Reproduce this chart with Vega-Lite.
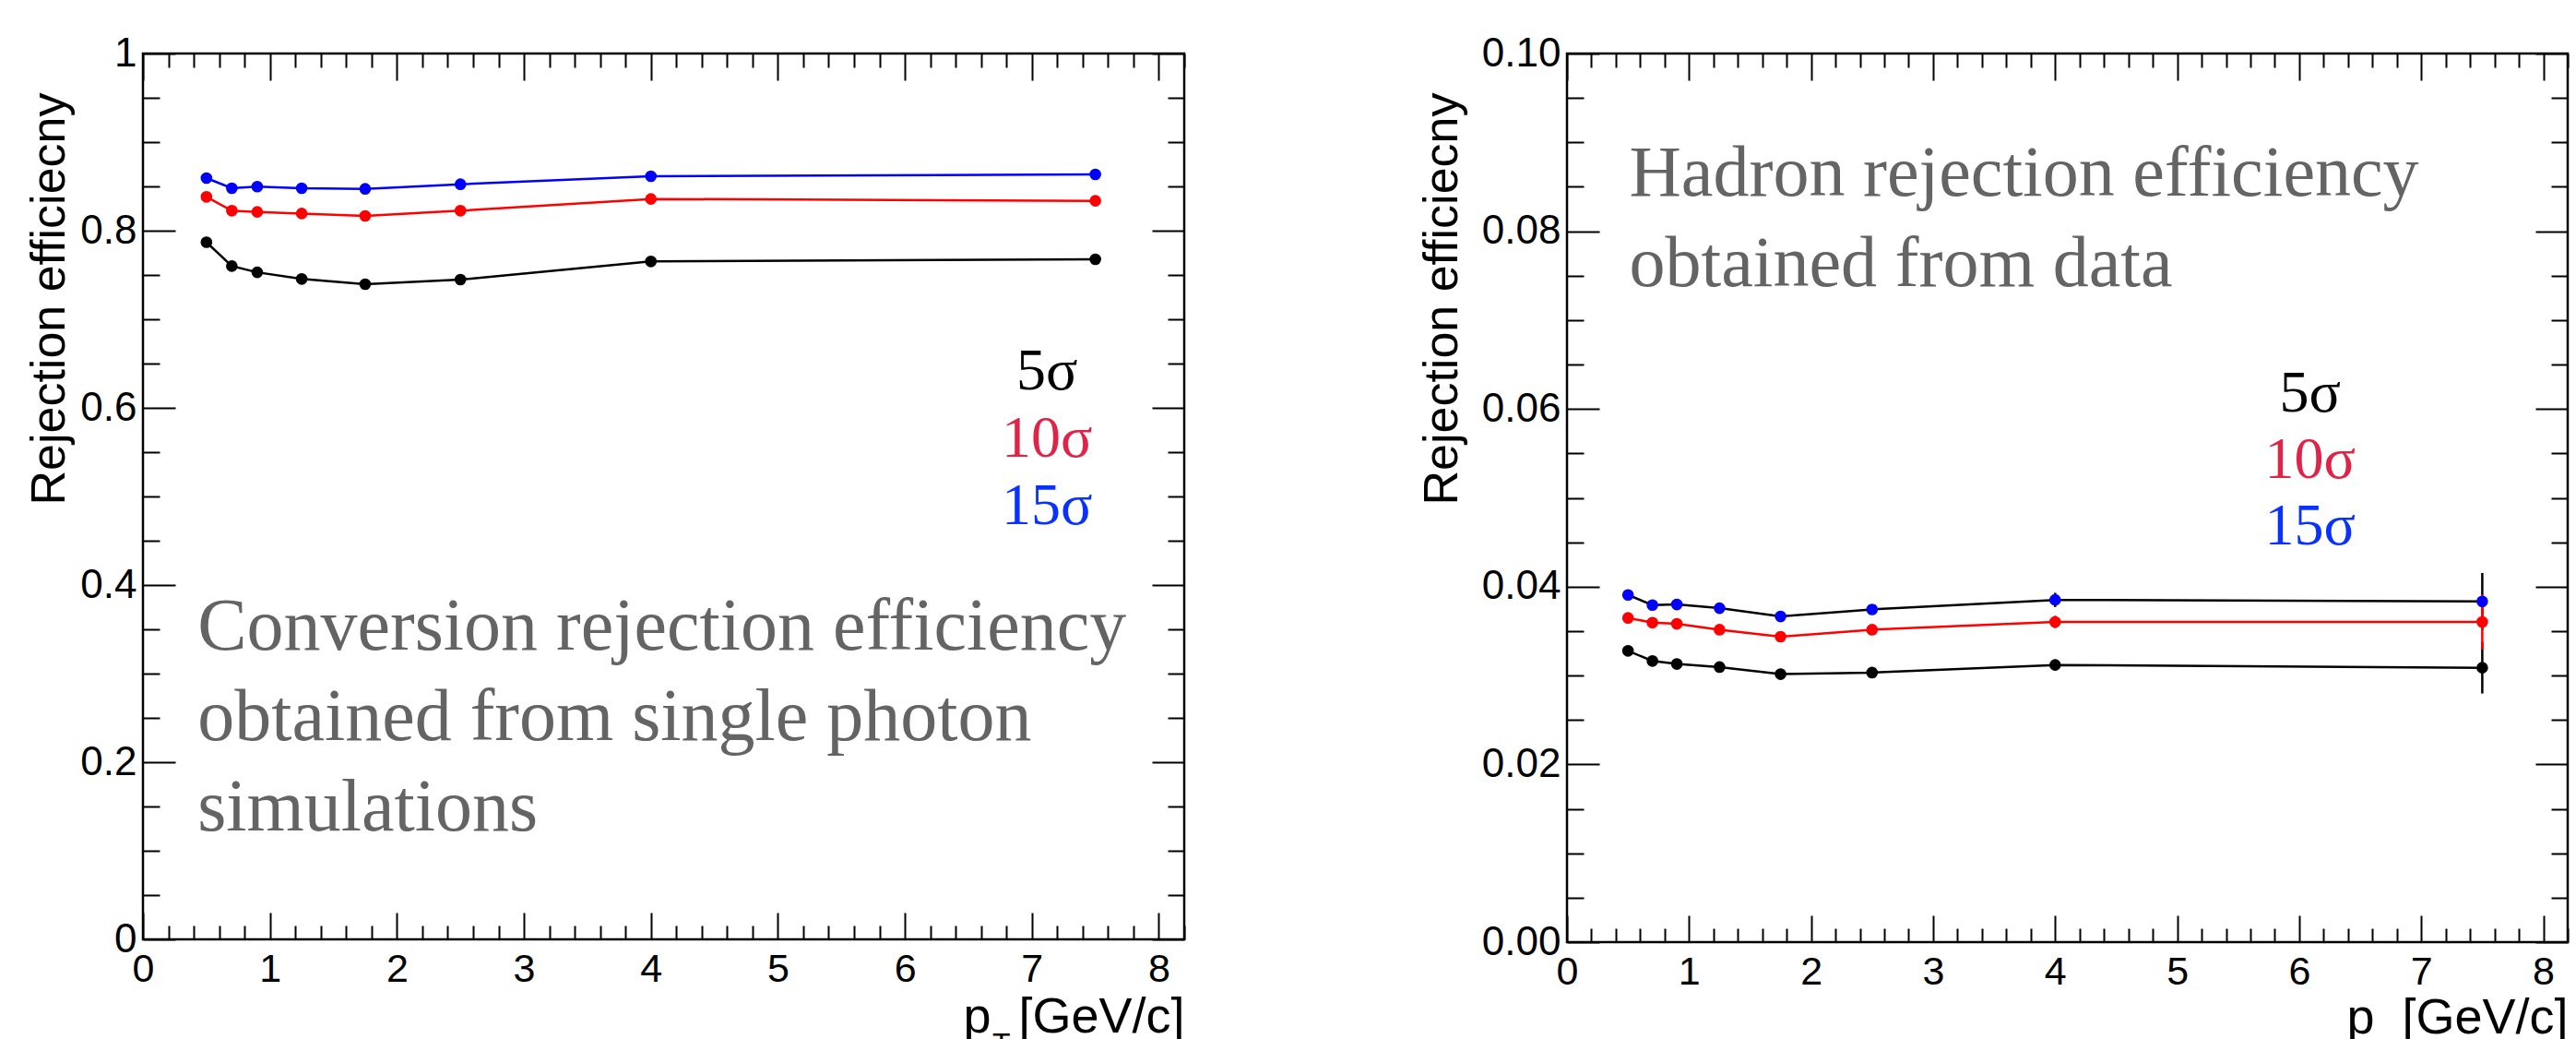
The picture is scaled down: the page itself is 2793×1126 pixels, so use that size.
{
  "$schema": "https://vega.github.io/schema/vega-lite/v6.json",
  "background": "white",
  "padding": {"left": 25, "top": 34, "right": 0, "bottom": 0},
  "autosize": {"type": "pad"},
  "spacing": 415,
  "bounds": "flush",
  "config": {
    "view": {"stroke": "black", "strokeWidth": 2.5},
    "axis": {"domain": false, "grid": false}
  },
  "datasets": {
    "sim": [
      {"pt": 0.5, "cut": "5σ", "eff": 0.787},
      {"pt": 0.7, "cut": "5σ", "eff": 0.760},
      {"pt": 0.9, "cut": "5σ", "eff": 0.753},
      {"pt": 1.25, "cut": "5σ", "eff": 0.7455},
      {"pt": 1.75, "cut": "5σ", "eff": 0.7396},
      {"pt": 2.5, "cut": "5σ", "eff": 0.7448},
      {"pt": 4.0, "cut": "5σ", "eff": 0.7653},
      {"pt": 7.5, "cut": "5σ", "eff": 0.7677},
      {"pt": 0.5, "cut": "10σ", "eff": 0.8382},
      {"pt": 0.7, "cut": "10σ", "eff": 0.8226},
      {"pt": 0.9, "cut": "10σ", "eff": 0.8212},
      {"pt": 1.25, "cut": "10σ", "eff": 0.8194},
      {"pt": 1.75, "cut": "10σ", "eff": 0.8167},
      {"pt": 2.5, "cut": "10σ", "eff": 0.8226},
      {"pt": 4.0, "cut": "10σ", "eff": 0.8358},
      {"pt": 7.5, "cut": "10σ", "eff": 0.8337},
      {"pt": 0.5, "cut": "15σ", "eff": 0.8594},
      {"pt": 0.7, "cut": "15σ", "eff": 0.8479},
      {"pt": 0.9, "cut": "15σ", "eff": 0.8497},
      {"pt": 1.25, "cut": "15σ", "eff": 0.8479},
      {"pt": 1.75, "cut": "15σ", "eff": 0.8472},
      {"pt": 2.5, "cut": "15σ", "eff": 0.8524},
      {"pt": 4.0, "cut": "15σ", "eff": 0.8615},
      {"pt": 7.5, "cut": "15σ", "eff": 0.8635}
    ],
    "hadron": [
      {"pt": 0.5, "cut": "5σ", "eff": 0.03278, "lo": 0.03258, "hi": 0.03298},
      {"pt": 0.7, "cut": "5σ", "eff": 0.03164, "lo": 0.03144, "hi": 0.03184},
      {"pt": 0.9, "cut": "5σ", "eff": 0.03130, "lo": 0.03110, "hi": 0.03150},
      {"pt": 1.25, "cut": "5σ", "eff": 0.03095, "lo": 0.03075, "hi": 0.03115},
      {"pt": 1.75, "cut": "5σ", "eff": 0.03016, "lo": 0.02986, "hi": 0.03046},
      {"pt": 2.5, "cut": "5σ", "eff": 0.03033, "lo": 0.02993, "hi": 0.03073},
      {"pt": 4.0, "cut": "5σ", "eff": 0.03119, "lo": 0.03059, "hi": 0.03179},
      {"pt": 7.5, "cut": "5σ", "eff": 0.03088, "lo": 0.02798, "hi": 0.03378},
      {"pt": 0.5, "cut": "10σ", "eff": 0.03648, "lo": 0.03628, "hi": 0.03668},
      {"pt": 0.7, "cut": "10σ", "eff": 0.03596, "lo": 0.03576, "hi": 0.03616},
      {"pt": 0.9, "cut": "10σ", "eff": 0.03582, "lo": 0.03562, "hi": 0.03602},
      {"pt": 1.25, "cut": "10σ", "eff": 0.03516, "lo": 0.03496, "hi": 0.03536},
      {"pt": 1.75, "cut": "10σ", "eff": 0.03437, "lo": 0.03407, "hi": 0.03467},
      {"pt": 2.5, "cut": "10σ", "eff": 0.03516, "lo": 0.03476, "hi": 0.03556},
      {"pt": 4.0, "cut": "10σ", "eff": 0.03603, "lo": 0.03533, "hi": 0.03673},
      {"pt": 7.5, "cut": "10σ", "eff": 0.03603, "lo": 0.03293, "hi": 0.03913},
      {"pt": 0.5, "cut": "15σ", "eff": 0.03907, "lo": 0.03887, "hi": 0.03927},
      {"pt": 0.7, "cut": "15σ", "eff": 0.03793, "lo": 0.03773, "hi": 0.03813},
      {"pt": 0.9, "cut": "15σ", "eff": 0.03800, "lo": 0.03780, "hi": 0.03820},
      {"pt": 1.25, "cut": "15σ", "eff": 0.03758, "lo": 0.03738, "hi": 0.03778},
      {"pt": 1.75, "cut": "15σ", "eff": 0.03665, "lo": 0.03635, "hi": 0.03695},
      {"pt": 2.5, "cut": "15σ", "eff": 0.03744, "lo": 0.03704, "hi": 0.03784},
      {"pt": 4.0, "cut": "15σ", "eff": 0.03851, "lo": 0.03771, "hi": 0.03931},
      {"pt": 7.5, "cut": "15σ", "eff": 0.03834, "lo": 0.03514, "hi": 0.04154}
    ]
  },
  "hconcat": [
    {
      "width": 1129,
      "height": 960,
      "resolve": {"axis": {"x": "independent", "y": "independent"}},
      "layer": [
        {
          "data": {"name": "sim"},
          "transform": [{"filter": "datum.cut === '5σ'"}],
          "mark": {"type": "line", "color": "black", "strokeWidth": 2.5},
          "encoding": {
            "x": {"field": "pt", "type": "quantitative", "scale": {"domain": [0, 8.2], "nice": false, "zero": false},
              "axis": {"orient": "bottom", "values": [0,1,2,3,4,5,6,7,8], "format": "d", "ticks": false, "labelFont": "Liberation Sans", "labelFontSize": 43, "labelColor": "black", "labelPadding": 11, "labelFlush": false, "labelOverlap": false,
                "title": "p\u00a0\u00a0[GeV/c]", "titleFont": "Liberation Sans", "titleFontSize": 54, "titleFontWeight": "normal", "titleColor": "black", "titleAnchor": "end", "titleAlign": "right", "titleBaseline": "alphabetic", "titleX": 1129, "titleY": 100}},
            "y": {"field": "eff", "type": "quantitative", "scale": {"domain": [0, 1], "nice": false, "zero": false},
              "axis": {"orient": "left", "values": [0,0.2,0.4,0.6,0.8,1], "format": "~g", "ticks": false, "labelFont": "Liberation Sans", "labelFontSize": 44, "labelColor": "black", "labelPadding": 7, "labelFlush": false, "labelOverlap": false,
                "title": "Rejection efficiecny", "titleFont": "Liberation Sans", "titleFontSize": 52, "titleFontWeight": "normal", "titleColor": "black", "titleAnchor": "end", "titleAlign": "right", "titleAngle": -90, "titleBaseline": "alphabetic", "titleX": -86, "titleY": 42}}
          }
        },
        {
          "data": {"name": "sim"},
          "transform": [{"filter": "datum.cut === '10σ'"}],
          "mark": {"type": "line", "color": "#ff0000", "strokeWidth": 2.5},
          "encoding": {
            "x": {"field": "pt", "type": "quantitative", "axis": {"orient": "bottom", "values": [0,1,2,3,4,5,6,7,8], "labels": false, "tickSize": -29, "tickWidth": 2, "tickColor": "black", "title": null, "minExtent": 0}},
            "y": {"field": "eff", "type": "quantitative", "axis": {"orient": "left", "values": [0,0.2,0.4,0.6,0.8,1], "labels": false, "tickSize": -35, "tickWidth": 2, "tickColor": "black", "title": null, "minExtent": 0}}
          }
        },
        {
          "data": {"name": "sim"},
          "transform": [{"filter": "datum.cut === '15σ'"}],
          "mark": {"type": "line", "color": "#0000ff", "strokeWidth": 2.5},
          "encoding": {
            "x": {"field": "pt", "type": "quantitative", "axis": {"orient": "bottom", "values": [0.2,0.4,0.6,0.8,1.2,1.4,1.6,1.8,2.2,2.4,2.6,2.8,3.2,3.4,3.6,3.8,4.2,4.4,4.6,4.8,5.2,5.4,5.6,5.8,6.2,6.4,6.6,6.8,7.2,7.4,7.6,7.8,8.2], "labels": false, "tickSize": -15, "tickWidth": 2, "tickColor": "black", "title": null, "minExtent": 0}},
            "y": {"field": "eff", "type": "quantitative", "axis": {"orient": "left", "values": [0.05,0.1,0.15,0.25,0.3,0.35,0.45,0.5,0.55,0.65,0.7,0.75,0.85,0.9,0.95], "labels": false, "tickSize": -18, "tickWidth": 2, "tickColor": "black", "title": null, "minExtent": 0}}
          }
        },
        {
          "data": {"name": "sim"},
          "transform": [{"filter": "datum.cut === '5σ'"}],
          "mark": {"type": "circle", "color": "black", "size": 160, "opacity": 1},
          "encoding": {
            "x": {"field": "pt", "type": "quantitative", "axis": {"orient": "top", "values": [0,1,2,3,4,5,6,7,8], "labels": false, "tickSize": -29, "tickWidth": 2, "tickColor": "black", "title": null, "minExtent": 0}},
            "y": {"field": "eff", "type": "quantitative", "axis": {"orient": "right", "values": [0,0.2,0.4,0.6,0.8,1], "labels": false, "tickSize": -35, "tickWidth": 2, "tickColor": "black", "title": null, "minExtent": 0}}
          }
        },
        {
          "data": {"name": "sim"},
          "transform": [{"filter": "datum.cut === '10σ'"}],
          "mark": {"type": "circle", "color": "#ff0000", "size": 160, "opacity": 1},
          "encoding": {
            "x": {"field": "pt", "type": "quantitative", "axis": {"orient": "top", "values": [0.2,0.4,0.6,0.8,1.2,1.4,1.6,1.8,2.2,2.4,2.6,2.8,3.2,3.4,3.6,3.8,4.2,4.4,4.6,4.8,5.2,5.4,5.6,5.8,6.2,6.4,6.6,6.8,7.2,7.4,7.6,7.8,8.2], "labels": false, "tickSize": -15, "tickWidth": 2, "tickColor": "black", "title": null, "minExtent": 0}},
            "y": {"field": "eff", "type": "quantitative", "axis": {"orient": "right", "values": [0.05,0.1,0.15,0.25,0.3,0.35,0.45,0.5,0.55,0.65,0.7,0.75,0.85,0.9,0.95], "labels": false, "tickSize": -18, "tickWidth": 2, "tickColor": "black", "title": null, "minExtent": 0}}
          }
        },
        {
          "data": {"name": "sim"},
          "transform": [{"filter": "datum.cut === '15σ'"}],
          "mark": {"type": "circle", "color": "#0000ff", "size": 160, "opacity": 1},
          "encoding": {
            "x": {"field": "pt", "type": "quantitative", "axis": null},
            "y": {"field": "eff", "type": "quantitative", "axis": null}
          }
        },
        {
          "data": {"values": [{}]},
          "mark": {"type": "text", "font": "Liberation Serif", "fontSize": 64, "align": "center", "baseline": "alphabetic", "color": "black"},
          "encoding": {"x": {"datum": 7.12, "type": "quantitative", "axis": null}, "y": {"datum": 0.621, "type": "quantitative", "axis": null}, "text": {"value": "5σ"}}
        },
        {
          "data": {"values": [{}]},
          "mark": {"type": "text", "font": "Liberation Serif", "fontSize": 64, "align": "center", "baseline": "alphabetic", "color": "#e02448"},
          "encoding": {"x": {"datum": 7.12, "type": "quantitative", "axis": null}, "y": {"datum": 0.545, "type": "quantitative", "axis": null}, "text": {"value": "10σ"}}
        },
        {
          "data": {"values": [{}]},
          "mark": {"type": "text", "font": "Liberation Serif", "fontSize": 64, "align": "center", "baseline": "alphabetic", "color": "#0a32ff"},
          "encoding": {"x": {"datum": 7.12, "type": "quantitative", "axis": null}, "y": {"datum": 0.469, "type": "quantitative", "axis": null}, "text": {"value": "15σ"}}
        },
        {
          "data": {"values": [{}]},
          "mark": {"type": "text", "font": "Liberation Serif", "fontSize": 80, "align": "left", "baseline": "alphabetic", "color": "#646464", "lineHeight": 98},
          "encoding": {"x": {"datum": 0.43, "type": "quantitative", "axis": null}, "y": {"datum": 0.327, "type": "quantitative", "axis": null}, "text": {"value": ["Conversion rejection efficiency", "obtained from single photon", "simulations"]}}
        },
        {
          "data": {"values": [{}]},
          "mark": {"type": "text", "font": "Liberation Sans", "fontSize": 32, "align": "center", "baseline": "alphabetic", "color": "black"},
          "encoding": {"x": {"datum": 6.76, "type": "quantitative", "axis": null}, "y": {"datum": -0.129, "type": "quantitative", "axis": null}, "text": {"value": "T"}}
        }
      ]
    },
    {
      "width": 1085,
      "height": 963,
      "resolve": {"axis": {"x": "independent", "y": "independent"}},
      "layer": [
        {
          "data": {"name": "hadron"},
          "transform": [{"filter": "datum.cut !== '10σ'"}],
          "mark": {"type": "rule", "color": "black", "strokeWidth": 2.5},
          "encoding": {
            "x": {"field": "pt", "type": "quantitative", "scale": {"domain": [0, 8.2], "nice": false, "zero": false}, "axis": null},
            "y": {"field": "lo", "type": "quantitative", "scale": {"domain": [0, 0.1], "nice": false, "zero": false}, "axis": null},
            "y2": {"field": "hi"}
          }
        },
        {
          "data": {"name": "hadron"},
          "transform": [{"filter": "datum.cut === '10σ'"}],
          "mark": {"type": "rule", "color": "#ff0000", "strokeWidth": 2.5},
          "encoding": {
            "x": {"field": "pt", "type": "quantitative", "axis": null},
            "y": {"field": "lo", "type": "quantitative", "axis": null},
            "y2": {"field": "hi"}
          }
        },
        {
          "data": {"name": "hadron"},
          "transform": [{"filter": "datum.cut === '5σ'"}],
          "mark": {"type": "line", "color": "black", "strokeWidth": 2.5},
          "encoding": {
            "x": {"field": "pt", "type": "quantitative",
              "axis": {"orient": "bottom", "values": [0,1,2,3,4,5,6,7,8], "format": "d", "ticks": false, "labelFont": "Liberation Sans", "labelFontSize": 43, "labelColor": "black", "labelPadding": 11, "labelFlush": false, "labelOverlap": false,
                "title": "p\u00a0\u00a0[GeV/c]", "titleFont": "Liberation Sans", "titleFontSize": 54, "titleFontWeight": "normal", "titleColor": "black", "titleAnchor": "end", "titleAlign": "right", "titleBaseline": "alphabetic", "titleX": 1085, "titleY": 98}},
            "y": {"field": "eff", "type": "quantitative",
              "axis": {"orient": "left", "values": [0,0.02,0.04,0.06,0.08,0.1], "format": ".2f", "ticks": false, "labelFont": "Liberation Sans", "labelFontSize": 44, "labelColor": "black", "labelPadding": 7, "labelFlush": false, "labelOverlap": false,
                "title": "Rejection efficiecny", "titleFont": "Liberation Sans", "titleFontSize": 52, "titleFontWeight": "normal", "titleColor": "black", "titleAnchor": "end", "titleAlign": "right", "titleAngle": -90, "titleBaseline": "alphabetic", "titleX": -120, "titleY": 42}}
          }
        },
        {
          "data": {"name": "hadron"},
          "transform": [{"filter": "datum.cut === '10σ'"}],
          "mark": {"type": "line", "color": "#ff0000", "strokeWidth": 2.5},
          "encoding": {
            "x": {"field": "pt", "type": "quantitative", "axis": {"orient": "bottom", "values": [0,1,2,3,4,5,6,7,8], "labels": false, "tickSize": -29, "tickWidth": 2, "tickColor": "black", "title": null, "minExtent": 0}},
            "y": {"field": "eff", "type": "quantitative", "axis": {"orient": "left", "values": [0,0.02,0.04,0.06,0.08,0.1], "labels": false, "tickSize": -35, "tickWidth": 2, "tickColor": "black", "title": null, "minExtent": 0}}
          }
        },
        {
          "data": {"name": "hadron"},
          "transform": [{"filter": "datum.cut === '15σ'"}],
          "mark": {"type": "line", "color": "black", "strokeWidth": 2.5},
          "encoding": {
            "x": {"field": "pt", "type": "quantitative", "axis": {"orient": "bottom", "values": [0.2,0.4,0.6,0.8,1.2,1.4,1.6,1.8,2.2,2.4,2.6,2.8,3.2,3.4,3.6,3.8,4.2,4.4,4.6,4.8,5.2,5.4,5.6,5.8,6.2,6.4,6.6,6.8,7.2,7.4,7.6,7.8,8.2], "labels": false, "tickSize": -15, "tickWidth": 2, "tickColor": "black", "title": null, "minExtent": 0}},
            "y": {"field": "eff", "type": "quantitative", "axis": {"orient": "left", "values": [0.005,0.01,0.015,0.025,0.03,0.035,0.045,0.05,0.055,0.065,0.07,0.075,0.085,0.09,0.095], "labels": false, "tickSize": -18, "tickWidth": 2, "tickColor": "black", "title": null, "minExtent": 0}}
          }
        },
        {
          "data": {"name": "hadron"},
          "transform": [{"filter": "datum.cut === '5σ'"}],
          "mark": {"type": "circle", "color": "black", "size": 160, "opacity": 1},
          "encoding": {
            "x": {"field": "pt", "type": "quantitative", "axis": {"orient": "top", "values": [0,1,2,3,4,5,6,7,8], "labels": false, "tickSize": -29, "tickWidth": 2, "tickColor": "black", "title": null, "minExtent": 0}},
            "y": {"field": "eff", "type": "quantitative", "axis": {"orient": "right", "values": [0,0.02,0.04,0.06,0.08,0.1], "labels": false, "tickSize": -35, "tickWidth": 2, "tickColor": "black", "title": null, "minExtent": 0}}
          }
        },
        {
          "data": {"name": "hadron"},
          "transform": [{"filter": "datum.cut === '10σ'"}],
          "mark": {"type": "circle", "color": "#ff0000", "size": 160, "opacity": 1},
          "encoding": {
            "x": {"field": "pt", "type": "quantitative", "axis": {"orient": "top", "values": [0.2,0.4,0.6,0.8,1.2,1.4,1.6,1.8,2.2,2.4,2.6,2.8,3.2,3.4,3.6,3.8,4.2,4.4,4.6,4.8,5.2,5.4,5.6,5.8,6.2,6.4,6.6,6.8,7.2,7.4,7.6,7.8,8.2], "labels": false, "tickSize": -15, "tickWidth": 2, "tickColor": "black", "title": null, "minExtent": 0}},
            "y": {"field": "eff", "type": "quantitative", "axis": {"orient": "right", "values": [0.005,0.01,0.015,0.025,0.03,0.035,0.045,0.05,0.055,0.065,0.07,0.075,0.085,0.09,0.095], "labels": false, "tickSize": -18, "tickWidth": 2, "tickColor": "black", "title": null, "minExtent": 0}}
          }
        },
        {
          "data": {"name": "hadron"},
          "transform": [{"filter": "datum.cut === '15σ'"}],
          "mark": {"type": "circle", "color": "#0000ff", "size": 160, "opacity": 1},
          "encoding": {
            "x": {"field": "pt", "type": "quantitative", "axis": null},
            "y": {"field": "eff", "type": "quantitative", "axis": null}
          }
        },
        {
          "data": {"values": [{}]},
          "mark": {"type": "text", "font": "Liberation Serif", "fontSize": 64, "align": "center", "baseline": "alphabetic", "color": "black"},
          "encoding": {"x": {"datum": 6.09, "type": "quantitative", "axis": null}, "y": {"datum": 0.0597, "type": "quantitative", "axis": null}, "text": {"value": "5σ"}}
        },
        {
          "data": {"values": [{}]},
          "mark": {"type": "text", "font": "Liberation Serif", "fontSize": 64, "align": "center", "baseline": "alphabetic", "color": "#e02448"},
          "encoding": {"x": {"datum": 6.09, "type": "quantitative", "axis": null}, "y": {"datum": 0.0522, "type": "quantitative", "axis": null}, "text": {"value": "10σ"}}
        },
        {
          "data": {"values": [{}]},
          "mark": {"type": "text", "font": "Liberation Serif", "fontSize": 64, "align": "center", "baseline": "alphabetic", "color": "#0a32ff"},
          "encoding": {"x": {"datum": 6.09, "type": "quantitative", "axis": null}, "y": {"datum": 0.0448, "type": "quantitative", "axis": null}, "text": {"value": "15σ"}}
        },
        {
          "data": {"values": [{}]},
          "mark": {"type": "text", "font": "Liberation Serif", "fontSize": 78, "align": "left", "baseline": "alphabetic", "color": "#646464", "lineHeight": 98},
          "encoding": {"x": {"datum": 0.51, "type": "quantitative", "axis": null}, "y": {"datum": 0.084, "type": "quantitative", "axis": null}, "text": {"value": ["Hadron rejection efficiency", "obtained from data"]}}
        },
        {
          "data": {"values": [{}]},
          "mark": {"type": "text", "font": "Liberation Sans", "fontSize": 32, "align": "center", "baseline": "alphabetic", "color": "black"},
          "encoding": {"x": {"datum": 6.68, "type": "quantitative", "axis": null}, "y": {"datum": -0.0136, "type": "quantitative", "axis": null}, "text": {"value": "T"}}
        }
      ]
    }
  ]
}
